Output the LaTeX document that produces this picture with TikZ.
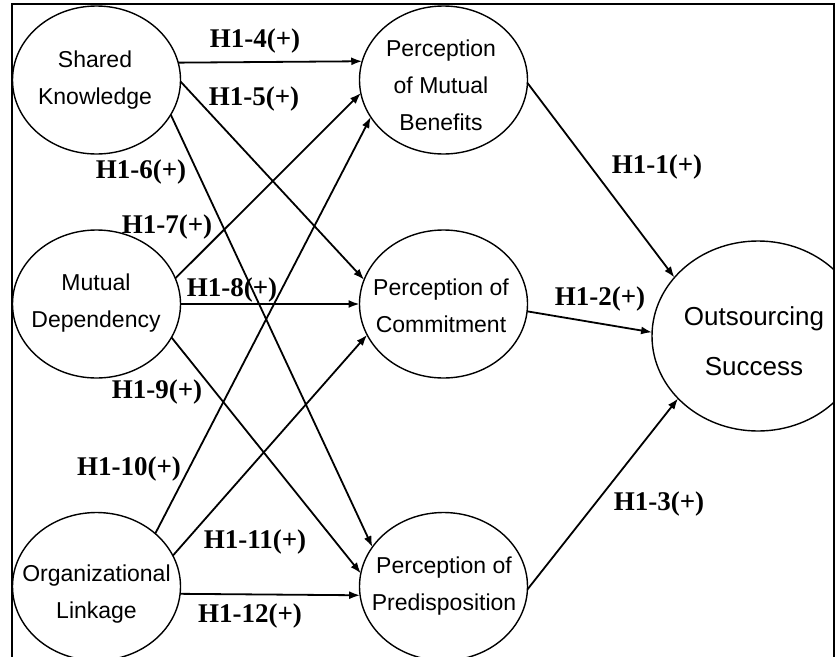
\documentclass[tikz,border=0pt]{standalone}
\usepackage{fontspec}
\setmainfont{Liberation Serif}
\newfontfamily\arialf{Liberation Sans}
\usetikzlibrary{shapes.geometric,arrows.meta}
\begin{document}
\begin{tikzpicture}[x=1pt,y=-1pt,
  ell/.style={draw, ellipse, line width=1.4pt, minimum width=168pt, minimum height=148pt, inner sep=0pt, outer sep=0pt},
  bigell/.style={ell, minimum width=212pt, minimum height=190pt},
  txt/.style={font=\arialf\fontsize{23}{37}\selectfont, align=center, anchor=base, inner sep=0pt},
  bigtxt/.style={font=\arialf\fontsize{26}{50}\selectfont, align=center, anchor=base, inner sep=0pt},
  hyp/.style={font=\bfseries\fontsize{27}{27}\selectfont, anchor=base, inner sep=0pt},
  arr/.style={-{Latex[length=11pt,width=8pt]}, line width=1.8pt}]
\useasboundingbox (0,0) rectangle (840,656);
\fill[white] (0,0) rectangle (840,656);
\begin{scope}
\clip (12,4) rectangle (834,680);
% ellipses
\node[ell] (sk) at (96.5,80) {};
\node[ell] (md) at (96.5,304) {};
\node[ell] (ol) at (96.5,586.5) {};
\node[ell] (pmb) at (443.5,80) {};
\node[ell] (pc) at (443.5,304) {};
\node[ell] (pp) at (443.5,586.5) {};
\node[bigell] (os) at (758,336) {};
% texts (anchor base = last line baseline)
\node[txt] (skt) at (95,104) {Shared\\Knowledge};
\node[txt] (mdt) at (96,327) {Mutual\\Dependency};
\node[txt] (olt) at (96.5,618) {Organizational\\Linkage};
\node[txt] (pmbt) at (441,130) {Perception\\of Mutual\\Benefits};
\node[txt] (pct) at (441,332) {Perception of\\Commitment};
\node[txt] (ppt) at (444,610) {Perception of\\Predisposition};
\node[bigtxt] (ost) at (754,375) {Outsourcing\\Success};
% arrows
\draw[arr] (sk.12.5) -- (pmb.167.5);
\draw[arr] (sk.-1) -- (pc.163.7);
\draw[arr] (sk.-25.2) -- (pp.151.5);
\draw[arr] (md.18.3) -- (pmb.-171.3);
\draw[arr] (md.0) -- (pc.180);
\draw[arr] (md.-24.5) -- (pp.171);
\draw[arr] (ol.42) -- (pmb.-153.3);
\draw[arr] (ol.22.4) -- (pc.-158.9);
\draw[arr] (ol.-5.8) -- (pp.-174.2);
\draw[arr] (pmb.-2) -- (os.145.7);
\draw[arr] (pc.-5.4) -- (os.178.5);
\draw[arr] (pp.-2.4) -- (os.-142.2);
% hypothesis labels
\node[hyp] (h4) at (255,47) {H1-4(+)};
\node[hyp] (h5) at (254,105) {H1-5(+)};
\node[hyp] (h6) at (141,178) {H1-6(+)};
\node[hyp] (h7) at (167,233) {H1-7(+)};
\node[hyp] (h8) at (232,296) {H1-8(+)};
\node[hyp] (h9) at (157,398) {H1-9(+)};
\node[hyp] (h10) at (129,475) {H1-10(+)};
\node[hyp] (h11) at (255,548) {H1-11(+)};
\node[hyp] (h12) at (250,622) {H1-12(+)};
\node[hyp] (h1) at (657,173) {H1-1(+)};
\node[hyp] (h2) at (600,305) {H1-2(+)};
\node[hyp] (h3) at (659,510) {H1-3(+)};
\end{scope}
\draw[line width=1.8pt] (12,4) rectangle (834,680);
\end{tikzpicture}
\end{document}
